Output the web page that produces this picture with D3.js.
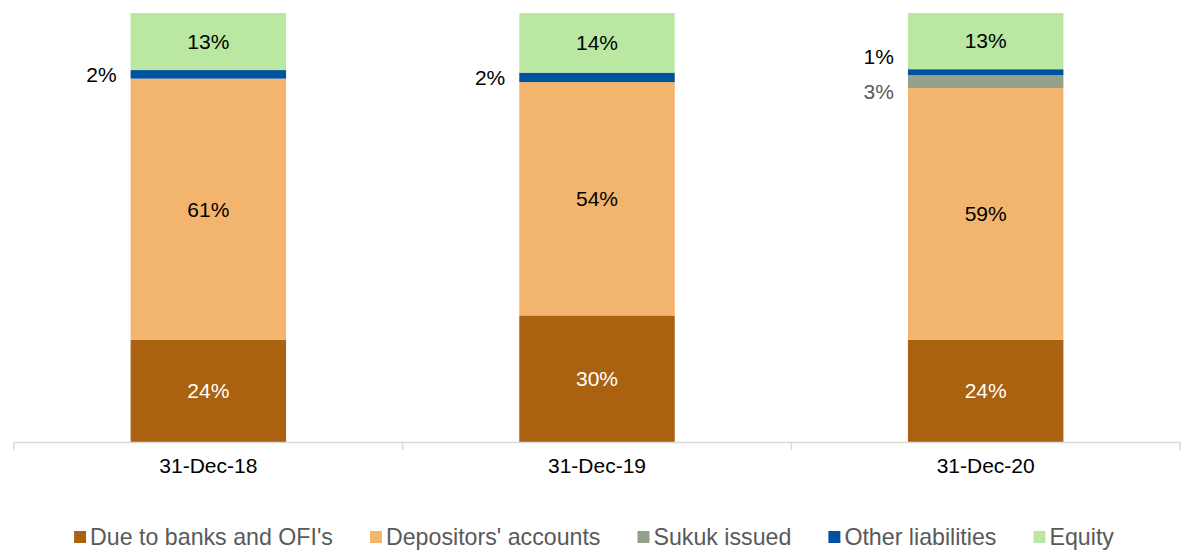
<!DOCTYPE html>
<html>
<head>
<meta charset="utf-8">
<script src="https://cdn.jsdelivr.net/npm/d3@7"></script>
<style>
  html, body { margin: 0; padding: 0; background: #fff; }
  svg { display: block; font-family: "Liberation Sans", Arial, sans-serif; }
</style>
</head>
<body>
<svg id="chart" width="1190" height="556"></svg>
<script>
const categories = ["31-Dec-18", "31-Dec-19", "31-Dec-20"];
const seriesNames = ["Due to banks and OFI's", "Depositors' accounts", "Sukuk issued", "Other liabilities", "Equity"];
const dueToBanks = [23.8, 29.5, 23.8];
const depositors = [60.9, 54.4, 58.7];
const sukukIssued = [0, 0, 3.0];
const otherLiabilities = [2.0, 2.2, 1.4];
const equity = [13.3, 13.9, 13.1];
const seriesColors = ["#AA6110", "#F3B56D", "#94A088", "#00529F", "#BAE8A2"];
const labelColors = ["#FFFFFF", "#000000", "#595959", "#000000", "#000000"];

const seriesValues = [dueToBanks, depositors, sukukIssued, otherLiabilities, equity];
const keys = seriesNames;
const rows = categories.map((c, i) => {
  const r = { category: c };
  keys.forEach((k, j) => { r[k] = seriesValues[j][i]; });
  return r;
});

const svg = d3.select("#chart");
const plotLeft = 14, plotRight = 1180, plotTop = 13, plotBottom = 442;

const x = d3.scaleBand().domain(categories).range([plotLeft, plotRight]).padding(0);
const y = d3.scaleLinear().domain([0, 100]).range([plotBottom, plotTop]);
const barW = x.bandwidth() * 0.4;
const barOff = x.bandwidth() * 0.3;

const stacked = d3.stack().keys(keys)(rows);

// bars
const layers = svg.append("g").selectAll("g").data(stacked).join("g")
  .attr("fill", (d, i) => seriesColors[i]);
layers.selectAll("rect").data(d => d.filter(p => p[1] - p[0] > 0)).join("rect")
  .attr("x", d => x(d.data.category) + barOff)
  .attr("width", barW)
  .attr("y", d => y(d[1]))
  .attr("height", d => y(d[0]) - y(d[1]));

// axis
const axis = d3.axisBottom(x).tickSize(0).tickFormat(d => d);
const axisG = svg.append("g").attr("transform", `translate(0,${plotBottom})`).call(axis);
axisG.select(".domain").attr("stroke", "#D9D9D9").attr("stroke-width", 1.5);
axisG.selectAll("text").attr("font-size", 21).attr("fill", "#000").attr("dy", "1.35em")
  .attr("font-family", "'Liberation Sans', Arial, sans-serif");
// tick marks at band boundaries
const boundaries = categories.map(c => x(c)).concat([plotRight]);
axisG.selectAll("line.bt").data(boundaries).join("line").attr("class", "bt")
  .attr("x1", d => d).attr("x2", d => d).attr("y1", 0).attr("y2", 8)
  .attr("stroke", "#D9D9D9").attr("stroke-width", 1.5);

// data labels
const labelG = svg.append("g").attr("font-size", 21);
categories.forEach((c, ci) => {
  const outside = [];
  stacked.forEach((layer, si) => {
    const p = layer[ci];
    const v = p[1] - p[0];
    if (v <= 0) return;
    const cy = (y(p[0]) + y(p[1])) / 2;
    const txt = Math.round(v) + "%";
    if (v < 5) {
      outside.push({ si, cy, txt });
    } else {
      labelG.append("text")
        .attr("x", x(c) + barOff + barW / 2)
        .attr("y", cy)
        .attr("dy", "0.35em")
        .attr("text-anchor", "middle")
        .attr("fill", labelColors[si])
        .text(txt);
    }
  });
  if (outside.length > 1) {
    const mean = d3.mean(outside, d => d.cy) - 2.5;
    const gap = 35;
    outside.sort((a, b) => a.cy - b.cy);
    outside.forEach((d, i) => { d.cy = mean + (i - (outside.length - 1) / 2) * gap; });
  }
  outside.forEach(d => {
    labelG.append("text")
      .attr("x", x(c) + barOff - 14)
      .attr("y", d.cy)
      .attr("dy", "0.35em")
      .attr("text-anchor", "end")
      .attr("fill", labelColors[d.si] === "#FFFFFF" ? "#000" : labelColors[d.si])
      .text(d.txt);
  });
});

// legend
const legendY = 537;
const legendG = svg.append("g").attr("font-size", 23.2);
const items = legendG.selectAll("g").data(seriesNames).join("g");
items.append("rect").attr("width", 12).attr("height", 12).attr("y", -6)
  .attr("fill", (d, i) => seriesColors[i]);
items.append("text").attr("x", 16).attr("dy", "0.35em").attr("fill", "#595959").text(d => d);
let cx = 0;
const gapL = 37;
items.each(function () {
  const g = d3.select(this);
  const w = 16 + g.select("text").node().getComputedTextLength();
  g.attr("data-x", cx);
  cx += w + gapL;
});
const totalW = cx - gapL;
const startX = 594 - totalW / 2;
items.attr("transform", function () {
  return `translate(${startX + (+d3.select(this).attr("data-x"))},${legendY})`;
});
</script>
</body>
</html>
